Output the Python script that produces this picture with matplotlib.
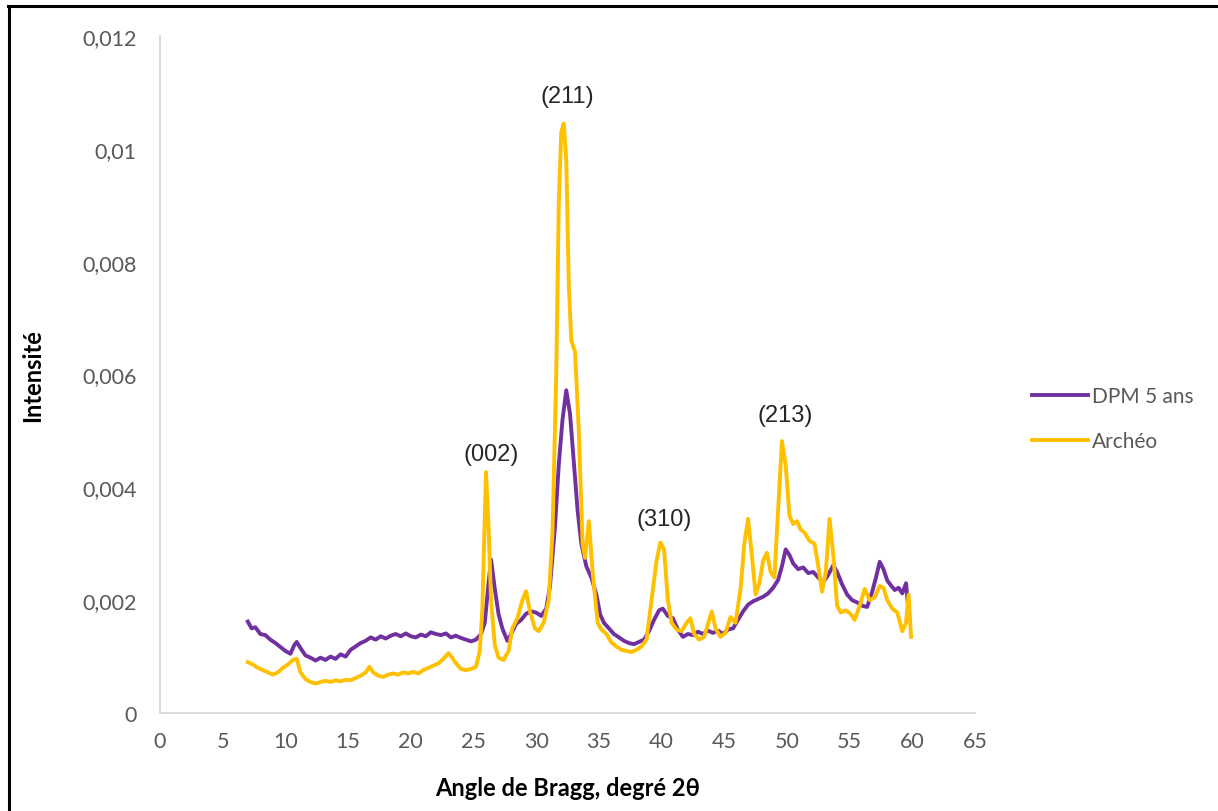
import matplotlib.pyplot as plt
from matplotlib.lines import Line2D

# DPM 5 ans (purple)
x_dpm = [7.0, 7.3, 7.6, 8.0, 8.4, 8.8, 9.2, 9.6, 10.0, 10.4, 10.7, 10.9, 11.2, 11.6, 12.0, 12.4,
         12.8, 13.2, 13.6, 14.0, 14.4, 14.8, 15.2, 15.6, 16.0, 16.4, 16.8, 17.2, 17.6, 18.0, 18.4,
         18.8, 19.2, 19.6, 20.0, 20.4, 20.8, 21.2, 21.6, 22.0, 22.4, 22.8, 23.2, 23.6, 24.0, 24.4,
         24.8, 25.2, 25.6, 25.9, 26.2, 26.4, 26.7, 27.0, 27.3, 27.7, 28.0, 28.4, 28.8, 29.2, 29.6,
         30.0, 30.4, 30.8, 31.1, 31.5, 31.8, 32.1, 32.4, 32.7, 33.0, 33.3, 33.6, 34.0, 34.4, 34.8,
         35.1, 35.4, 35.8, 36.2, 36.6, 37.0, 37.4, 37.8, 38.2, 38.6, 39.0, 39.4, 39.8, 40.1, 40.5,
         40.9, 41.3, 41.7, 42.1, 42.5, 42.9, 43.3, 43.7, 44.1, 44.5, 44.9, 45.3, 45.7, 46.1, 46.5,
         46.9, 47.3, 47.7, 48.1, 48.5, 48.9, 49.3, 49.6, 49.9, 50.2, 50.5, 50.9, 51.3, 51.7, 52.1,
         52.5, 52.9, 53.3, 53.7, 54.0, 54.4, 54.8, 55.2, 55.6, 56.0, 56.4, 56.8, 57.1, 57.4, 57.7,
         58.0, 58.3, 58.6, 58.9, 59.2, 59.5, 59.7]
y_dpm = [0.00162, 0.00150, 0.00152, 0.00140, 0.00138, 0.00130, 0.00124, 0.00117, 0.00110, 0.00105,
         0.00120, 0.00126, 0.00115, 0.00102, 0.00098, 0.00093, 0.00098, 0.00094, 0.00100, 0.00096,
         0.00104, 0.00100, 0.00112, 0.00118, 0.00124, 0.00128, 0.00134, 0.00130, 0.00136, 0.00132,
         0.00137, 0.00140, 0.00136, 0.00141, 0.00136, 0.00134, 0.00139, 0.00136, 0.00143, 0.00140,
         0.00138, 0.00141, 0.00134, 0.00137, 0.00133, 0.00130, 0.00127, 0.00130, 0.00140, 0.00160,
         0.00230, 0.00272, 0.00220, 0.00175, 0.00150, 0.00128, 0.00140, 0.00158, 0.00165, 0.00176,
         0.00180, 0.00178, 0.00172, 0.00185, 0.00225, 0.00330, 0.00440, 0.00520, 0.00572, 0.00530,
         0.00445, 0.00360, 0.00300, 0.00260, 0.00240, 0.00210, 0.00175, 0.00160, 0.00150, 0.00140,
         0.00134, 0.00128, 0.00124, 0.00122, 0.00126, 0.00130, 0.00145, 0.00165, 0.00182, 0.00185,
         0.00172, 0.00168, 0.00148, 0.00135, 0.00140, 0.00138, 0.00144, 0.00140, 0.00146, 0.00142,
         0.00146, 0.00140, 0.00148, 0.00150, 0.00165, 0.00180, 0.00192, 0.00198, 0.00202, 0.00206,
         0.00212, 0.00222, 0.00236, 0.00260, 0.00290, 0.00280, 0.00265, 0.00255, 0.00258, 0.00248,
         0.00250, 0.00240, 0.00232, 0.00245, 0.00262, 0.00250, 0.00228, 0.00210, 0.00200, 0.00196,
         0.00190, 0.00188, 0.00215, 0.00240, 0.00268, 0.00255, 0.00235, 0.00226, 0.00218, 0.00222,
         0.00212, 0.00230, 0.00180]

# Archéo (gold)
x_arch = [7.0, 7.4, 7.8, 8.2, 8.6, 9.0, 9.4, 9.8, 10.2, 10.6, 10.9, 11.2, 11.6, 12.0, 12.4, 12.8,
          13.2, 13.6, 14.0, 14.4, 14.8, 15.2, 15.6, 16.0, 16.4, 16.7, 17.0, 17.4, 17.8, 18.2, 18.6,
          19.0, 19.4, 19.8, 20.2, 20.6, 21.0, 21.4, 21.8, 22.2, 22.6, 23.0, 23.3, 23.6, 24.0, 24.4,
          24.8, 25.2, 25.5, 25.7, 25.9, 26.0, 26.2, 26.4, 26.7, 27.0, 27.4, 27.8, 28.1, 28.5, 28.9,
          29.2, 29.5, 29.9, 30.2, 30.6, 31.0, 31.3, 31.6, 31.8, 32.0, 32.2, 32.4, 32.6, 32.8, 33.1,
          33.4, 33.7, 33.9, 34.2, 34.5, 34.9, 35.2, 35.6, 36.0, 36.4, 36.8, 37.2, 37.6, 38.0, 38.4,
          38.8, 39.2, 39.6, 39.9, 40.2, 40.5, 40.8, 41.2, 41.6, 42.0, 42.3, 42.6, 43.0, 43.4, 43.8,
          44.0, 44.3, 44.7, 45.1, 45.5, 45.9, 46.3, 46.6, 46.9, 47.2, 47.5, 47.8, 48.1, 48.4, 48.7,
          49.0, 49.3, 49.6, 49.9, 50.2, 50.5, 50.8, 51.1, 51.4, 51.8, 52.2, 52.5, 52.8, 53.1, 53.4,
          53.7, 54.0, 54.3, 54.7, 55.1, 55.4, 55.8, 56.2, 56.6, 57.0, 57.4, 57.7, 58.0, 58.4, 58.8,
          59.2, 59.5, 59.7, 59.9]
y_arch = [0.00090, 0.00086, 0.00080, 0.00076, 0.00072, 0.00068, 0.00072, 0.00080, 0.00086, 0.00094,
          0.00096, 0.00072, 0.00060, 0.00055, 0.00052, 0.00055, 0.00057, 0.00055, 0.00058, 0.00056,
          0.00059, 0.00058, 0.00062, 0.00066, 0.00072, 0.00082, 0.00072, 0.00066, 0.00064, 0.00068,
          0.00070, 0.00068, 0.00072, 0.00070, 0.00073, 0.00070, 0.00076, 0.00080, 0.00084, 0.00088,
          0.00096, 0.00106, 0.00098, 0.00088, 0.00078, 0.00076, 0.00078, 0.00082, 0.00110, 0.00180,
          0.00340, 0.00427, 0.00330, 0.00200, 0.00120, 0.00098, 0.00094, 0.00110, 0.00150, 0.00168,
          0.00200, 0.00216, 0.00180, 0.00150, 0.00145, 0.00160, 0.00200, 0.00320, 0.00600, 0.00900,
          0.01030, 0.01045, 0.00980, 0.00760, 0.00660, 0.00640, 0.00500, 0.00300, 0.00275, 0.00340,
          0.00250, 0.00160, 0.00148, 0.00140, 0.00125, 0.00118, 0.00112, 0.00110, 0.00108, 0.00112,
          0.00118, 0.00130, 0.00200, 0.00270, 0.00302, 0.00290, 0.00200, 0.00160, 0.00148, 0.00145,
          0.00160, 0.00168, 0.00140, 0.00130, 0.00135, 0.00165, 0.00180, 0.00150, 0.00135, 0.00142,
          0.00170, 0.00160, 0.00220, 0.00300, 0.00344, 0.00280, 0.00210, 0.00230, 0.00270, 0.00284,
          0.00250, 0.00240, 0.00360, 0.00482, 0.00440, 0.00350, 0.00335, 0.00340, 0.00325, 0.00320,
          0.00305, 0.00300, 0.00260, 0.00215, 0.00250, 0.00344, 0.00280, 0.00190, 0.00178, 0.00182,
          0.00175, 0.00165, 0.00190, 0.00220, 0.00200, 0.00205, 0.00225, 0.00222, 0.00200, 0.00185,
          0.00178, 0.00145, 0.00160, 0.00210, 0.00135]

peak_labels = ['(002)', '(211)', '(310)', '(213)']
peak_x = [26.4, 32.5, 40.2, 49.9]
peak_y = [0.00459, 0.01094, 0.00344, 0.00528]

xticks = list(range(0, 70, 5))
yticks = [0, 0.002, 0.004, 0.006, 0.008, 0.010, 0.012]
ytick_labels = ['0', '0,002', '0,004', '0,006', '0,008', '0,01', '0,012']

fig = plt.figure(figsize=(12.18, 8.12), dpi=100)
ax = fig.add_axes([0.1314, 0.1207, 0.6691, 0.8337])

ax.plot(x_dpm, y_dpm, color='#7030A0', lw=2.8, label='DPM 5 ans')
ax.plot(x_arch, y_arch, color='#FFC000', lw=2.8, label='Archéo')

for lab, px, py in zip(peak_labels, peak_x, peak_y):
    ax.text(px, py, lab, ha='center', va='center', fontsize=17,
            family='Liberation Sans', color='#262626')

ax.set_xlim(0, 65)
ax.set_ylim(0, 0.012)
ax.set_xticks(xticks)
ax.set_xticklabels([str(t) for t in xticks], fontsize=15.5, family='Lato', color='#595959')
ax.set_yticks(yticks)
ax.set_yticklabels(ytick_labels, fontsize=15.5, family='Lato', color='#595959')
ax.tick_params(length=0)
ax.tick_params(axis='y', pad=17)
ax.tick_params(axis='x', pad=13)

for s in ['top', 'right']:
    ax.spines[s].set_visible(False)
for s in ['left', 'bottom']:
    ax.spines[s].set_color('#D9D9D9')
    ax.spines[s].set_linewidth(1.3)

ax.set_xlabel('Angle de Bragg, degré 2θ', fontsize=17, fontweight='bold',
              family=['Lato', 'DejaVu Sans'])
ax.set_ylabel('Intensité', fontsize=17, fontweight='bold', family=['Lato', 'DejaVu Sans'])
ax.xaxis.set_label_coords(0.5, -0.093)
ax.yaxis.set_label_coords(-0.142, 0.5)

leg = ax.legend(loc='center left', bbox_to_anchor=(1032 / 1218, 1 - 420 / 812),
                bbox_transform=fig.transFigure, frameon=False, borderpad=0,
                borderaxespad=0, handlelength=2.7, handletextpad=0.2, labelspacing=1.2,
                prop={'family': 'Lato', 'size': 15})
for t in leg.get_texts():
    t.set_color('#595959')

# frame lines of the screenshot (top and left)
fig.add_artist(Line2D([8 / 1218, 1], [1 - 6.5 / 812, 1 - 6.5 / 812], color='black', lw=2.2,
                      transform=fig.transFigure))
fig.add_artist(Line2D([9 / 1218, 9 / 1218], [0, 1 - 6.5 / 812], color='black', lw=2.2,
                      transform=fig.transFigure))

plt.savefig('out.png', dpi=100)
